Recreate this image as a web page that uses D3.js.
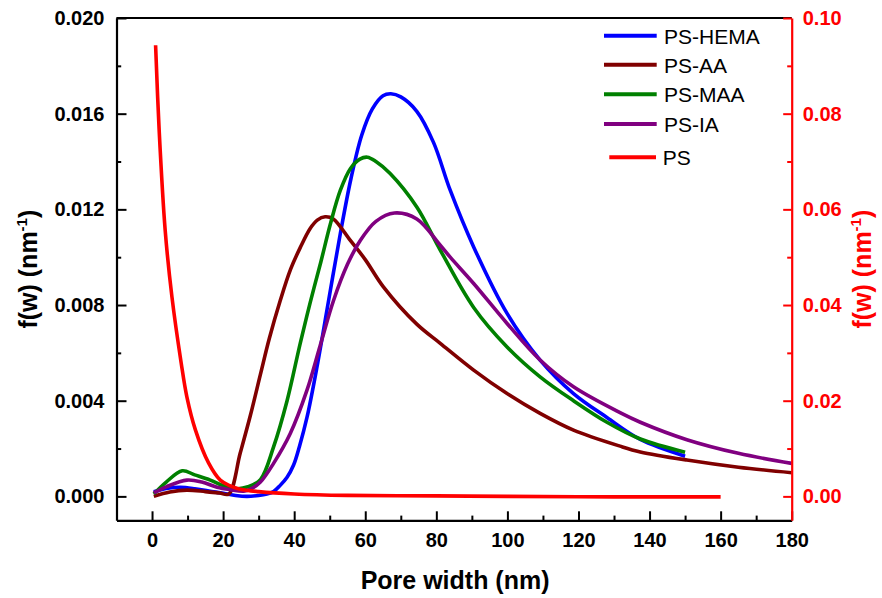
<!DOCTYPE html>
<html>
<head>
<meta charset="utf-8">
<script src="https://cdn.jsdelivr.net/npm/d3@7"></script>
<style>
  body { margin: 0; background: #fff; }
  svg { display: block; }
  text { font-family: "Liberation Sans", Arial, sans-serif; }
</style>
</head>
<body>
<svg id="chart" width="882" height="598"></svg>
<script>
// Pore size distributions f(w) against pore width w (nm)
const hemaX = [0.5, 4, 8, 12, 16, 20.1, 23.5, 26.7, 30, 32.3, 34.2, 36, 38, 39.8, 41.5, 43.6, 46.4, 49.7, 53, 56, 59, 62, 65, 67.2, 70, 74.5, 79.2, 83.9, 90.5, 99.9, 109.2, 118.6, 128, 137.4, 150];
const hemaY = [0.00019, 0.00033, 0.00038, 0.00032, 0.00022, 0.00013, 0.00004, 0.0, 0.00004, 0.0001, 0.0002, 0.00045, 0.0008, 0.0013, 0.0021, 0.0033, 0.0054, 0.0082, 0.0110, 0.0133, 0.0151, 0.0162, 0.01675, 0.01683, 0.0167, 0.0161, 0.0148, 0.0128, 0.01043, 0.00765, 0.0057, 0.0043, 0.0033, 0.00238, 0.00168];

const aaX = [0.5, 5, 9.8, 15, 19, 21.6, 24.8, 27.7, 30.5, 33, 36.1, 39, 41.7, 44.5, 46.5, 48.7, 51, 55.8, 60, 65.1, 74.5, 81.1, 90.5, 99.9, 109.2, 118.6, 131.7, 137.4, 150.5, 165, 180];
const aaY = [0.0, 0.00018, 0.00026, 0.0002, 0.00014, 0.0001, 0.0018, 0.0034, 0.0051, 0.0066, 0.0082, 0.0095, 0.0104, 0.0112, 0.01155, 0.01169, 0.0116, 0.0107, 0.0099, 0.00876, 0.0072, 0.0064, 0.00528, 0.0043, 0.00347, 0.00277, 0.0021, 0.00186, 0.00152, 0.00122, 0.00099];

const maaX = [0.5, 4, 8.5, 12, 16.4, 20, 24, 27, 30.5, 34.2, 38, 41.7, 44.5, 47.5, 50.2, 53, 55.8, 58.5, 60.6, 63, 67, 74.5, 81.1, 90.5, 99.9, 109.2, 118.6, 128, 137.4, 150];
const maaY = [0.0001, 0.0006, 0.00107, 0.0009, 0.00068, 0.00045, 0.00032, 0.0004, 0.0007, 0.00207, 0.004, 0.0064, 0.0081, 0.0098, 0.0114, 0.0128, 0.0137, 0.0141, 0.01418, 0.0140, 0.0135, 0.0121, 0.0103, 0.0079, 0.00625, 0.0050, 0.0040, 0.0031, 0.0024, 0.00185];

const iaX = [0.5, 4, 9.8, 14, 18.3, 22, 25.8, 27.7, 30.5, 34.2, 38.9, 43.6, 47.3, 51.1, 55, 58.6, 63, 68.2, 74.5, 81.1, 83.9, 90.5, 99.9, 109.2, 118.6, 131.7, 137.4, 150.5, 165, 180];
const iaY = [0.00015, 0.0004, 0.00068, 0.0006, 0.00038, 0.00028, 0.00022, 0.0003, 0.0006, 0.00138, 0.00263, 0.00444, 0.0063, 0.0082, 0.0097, 0.0107, 0.0115, 0.01185, 0.0116, 0.0105, 0.0100, 0.0089, 0.00723, 0.0057, 0.00458, 0.0035, 0.0031, 0.00237, 0.0018, 0.00138];

// PS is read against the right-hand axis
const psX = [1, 2, 3.7, 5.6, 8.2, 9.8, 12.2, 15.9, 19.2, 22, 24.8, 30, 40, 55, 80, 100, 130, 160];
const psY = [0.0943, 0.0766, 0.0556, 0.0417, 0.0279, 0.0208, 0.0139, 0.0070, 0.0034, 0.0022, 0.0015, 0.0010, 0.0005, 0.0002, 0.0001, 0.0, -0.0001, -0.0001];

const seriesNames = ["PS-HEMA", "PS-AA", "PS-MAA", "PS-IA", "PS"];
const seriesColors = ["#0000ff", "#800000", "#008000", "#800080", "#ff0000"];

const xTicks = [0, 20, 40, 60, 80, 100, 120, 140, 160, 180];
const xMinorTicks = [10, 30, 50, 70, 90, 110, 130, 150, 170];
const yLeftTicks = [0, 0.004, 0.008, 0.012, 0.016, 0.020];
const yLeftMinorTicks = [0.002, 0.006, 0.010, 0.014, 0.018];
const yRightTicks = [0, 0.02, 0.04, 0.06, 0.08, 0.10];
const yRightMinorTicks = [0.01, 0.03, 0.05, 0.07, 0.09];

const zip = (xs, ys) => xs.map((v, i) => [v, ys[i]]);
const series = [
  { data: zip(hemaX, hemaY), axis: "left" },
  { data: zip(aaX, aaY), axis: "left" },
  { data: zip(maaX, maaY), axis: "left" },
  { data: zip(iaX, iaY), axis: "left" },
  { data: zip(psX, psY), axis: "right" }
];

const plotLeft = 116.5, plotRight = 791.7, plotTop = 18, plotBottom = 520.3;
const svg = d3.select("#chart");

const x = d3.scaleLinear().domain([-10, 180]).range([plotLeft, plotRight]);
const yL = d3.scaleLinear().domain([-0.001, 0.020]).range([plotBottom, plotTop]);
const yR = d3.scaleLinear().domain([-0.005, 0.10]).range([plotBottom, plotTop]);

// Curves
const plot = svg.append("g");
series.forEach((s, i) => {
  const ys = s.axis === "left" ? yL : yR;
  const line = d3.line()
    .x(d => x(d[0]))
    .y(d => ys(d[1]))
    .curve(d3.curveCatmullRom.alpha(0.5));
  plot.append("path")
    .datum(s.data)
    .attr("fill", "none")
    .attr("stroke", seriesColors[i])
    .attr("stroke-width", 3.6)
    .attr("stroke-linejoin", "round")
    .attr("d", line);
});

function styleAxis(g, color, fontSize) {
  g.selectAll(".domain").attr("stroke", color).attr("stroke-width", 2.2);
  g.selectAll(".tick line").attr("stroke", color).attr("stroke-width", 2);
  g.selectAll(".tick text")
    .attr("fill", color)
    .style("font-size", fontSize + "px")
    .style("font-weight", "bold")
    .style("font-family", '"Liberation Sans", Arial, sans-serif');
}

// Top frame line
svg.append("line")
  .attr("x1", plotLeft).attr("x2", plotRight)
  .attr("y1", plotTop).attr("y2", plotTop)
  .attr("stroke", "#000").attr("stroke-width", 2.2);

// Bottom axis
const gxMinor = svg.append("g").attr("transform", `translate(0,${plotBottom})`)
  .call(d3.axisBottom(x).tickValues(xMinorTicks).tickSize(-4.7).tickFormat(""));
gxMinor.select(".domain").remove();
styleAxis(gxMinor, "#000", 20);
const gx = svg.append("g").attr("transform", `translate(0,${plotBottom})`)
  .call(d3.axisBottom(x).tickValues(xTicks).tickSize(-9).tickSizeOuter(0).tickPadding(13).tickFormat(d3.format("d")));
styleAxis(gx, "#000", 20);

// Left axis
const gyMinor = svg.append("g").attr("transform", `translate(${plotLeft},0)`)
  .call(d3.axisLeft(yL).tickValues(yLeftMinorTicks).tickSize(-4.7).tickFormat(""));
gyMinor.select(".domain").remove();
styleAxis(gyMinor, "#000", 20);
const gy = svg.append("g").attr("transform", `translate(${plotLeft},0)`)
  .call(d3.axisLeft(yL).tickValues(yLeftTicks).tickSize(-10).tickSizeOuter(0).tickPadding(12).tickFormat(d3.format(".3f")));
styleAxis(gy, "#000", 20);

// Right axis
const grMinor = svg.append("g").attr("transform", `translate(${plotRight},0)`)
  .call(d3.axisRight(yR).tickValues(yRightMinorTicks).tickSize(-4.5).tickFormat(""));
grMinor.select(".domain").remove();
styleAxis(grMinor, "#ff0000", 20);
const gr = svg.append("g").attr("transform", `translate(${plotRight},0)`)
  .call(d3.axisRight(yR).tickValues(yRightTicks).tickSize(-8.5).tickSizeOuter(0).tickPadding(11).tickFormat(d3.format(".2f")));
styleAxis(gr, "#ff0000", 20);

// Axis titles
svg.append("text")
  .attr("x", (plotLeft + plotRight) / 2 + 1).attr("y", 589)
  .attr("text-anchor", "middle")
  .style("font-size", "25px").style("font-weight", "bold")
  .text("Pore width (nm)");

function yTitle(xPos, color) {
  const t = svg.append("text")
    .attr("transform", `translate(${xPos},${(plotTop + plotBottom) / 2}) rotate(-90)`)
    .attr("text-anchor", "middle")
    .attr("fill", color)
    .style("font-size", "25px").style("font-weight", "bold");
  t.append("tspan").text("f(w) (nm");
  t.append("tspan").attr("dy", -10).style("font-size", "15px").text("-1");
  t.append("tspan").attr("dy", 10).text(")");
}
yTitle(37, "#000");
yTitle(871, "#ff0000");

// Legend
const legendLineY = [35.7, 64.7, 94.3, 124, 157.3];
const legend = svg.append("g");
seriesNames.forEach((name, i) => {
  const isPS = i === 4;
  legend.append("line")
    .attr("x1", isPS ? 609.3 : 604).attr("x2", isPS ? 656 : 656.7)
    .attr("y1", legendLineY[i]).attr("y2", legendLineY[i])
    .attr("stroke", seriesColors[i]).attr("stroke-width", 4);
  legend.append("text")
    .attr("x", isPS ? 662.7 : 664)
    .attr("y", legendLineY[i] + 8)
    .style("font-size", "21px")
    .attr("fill", "#000")
    .text(name);
});
</script>
</body>
</html>
